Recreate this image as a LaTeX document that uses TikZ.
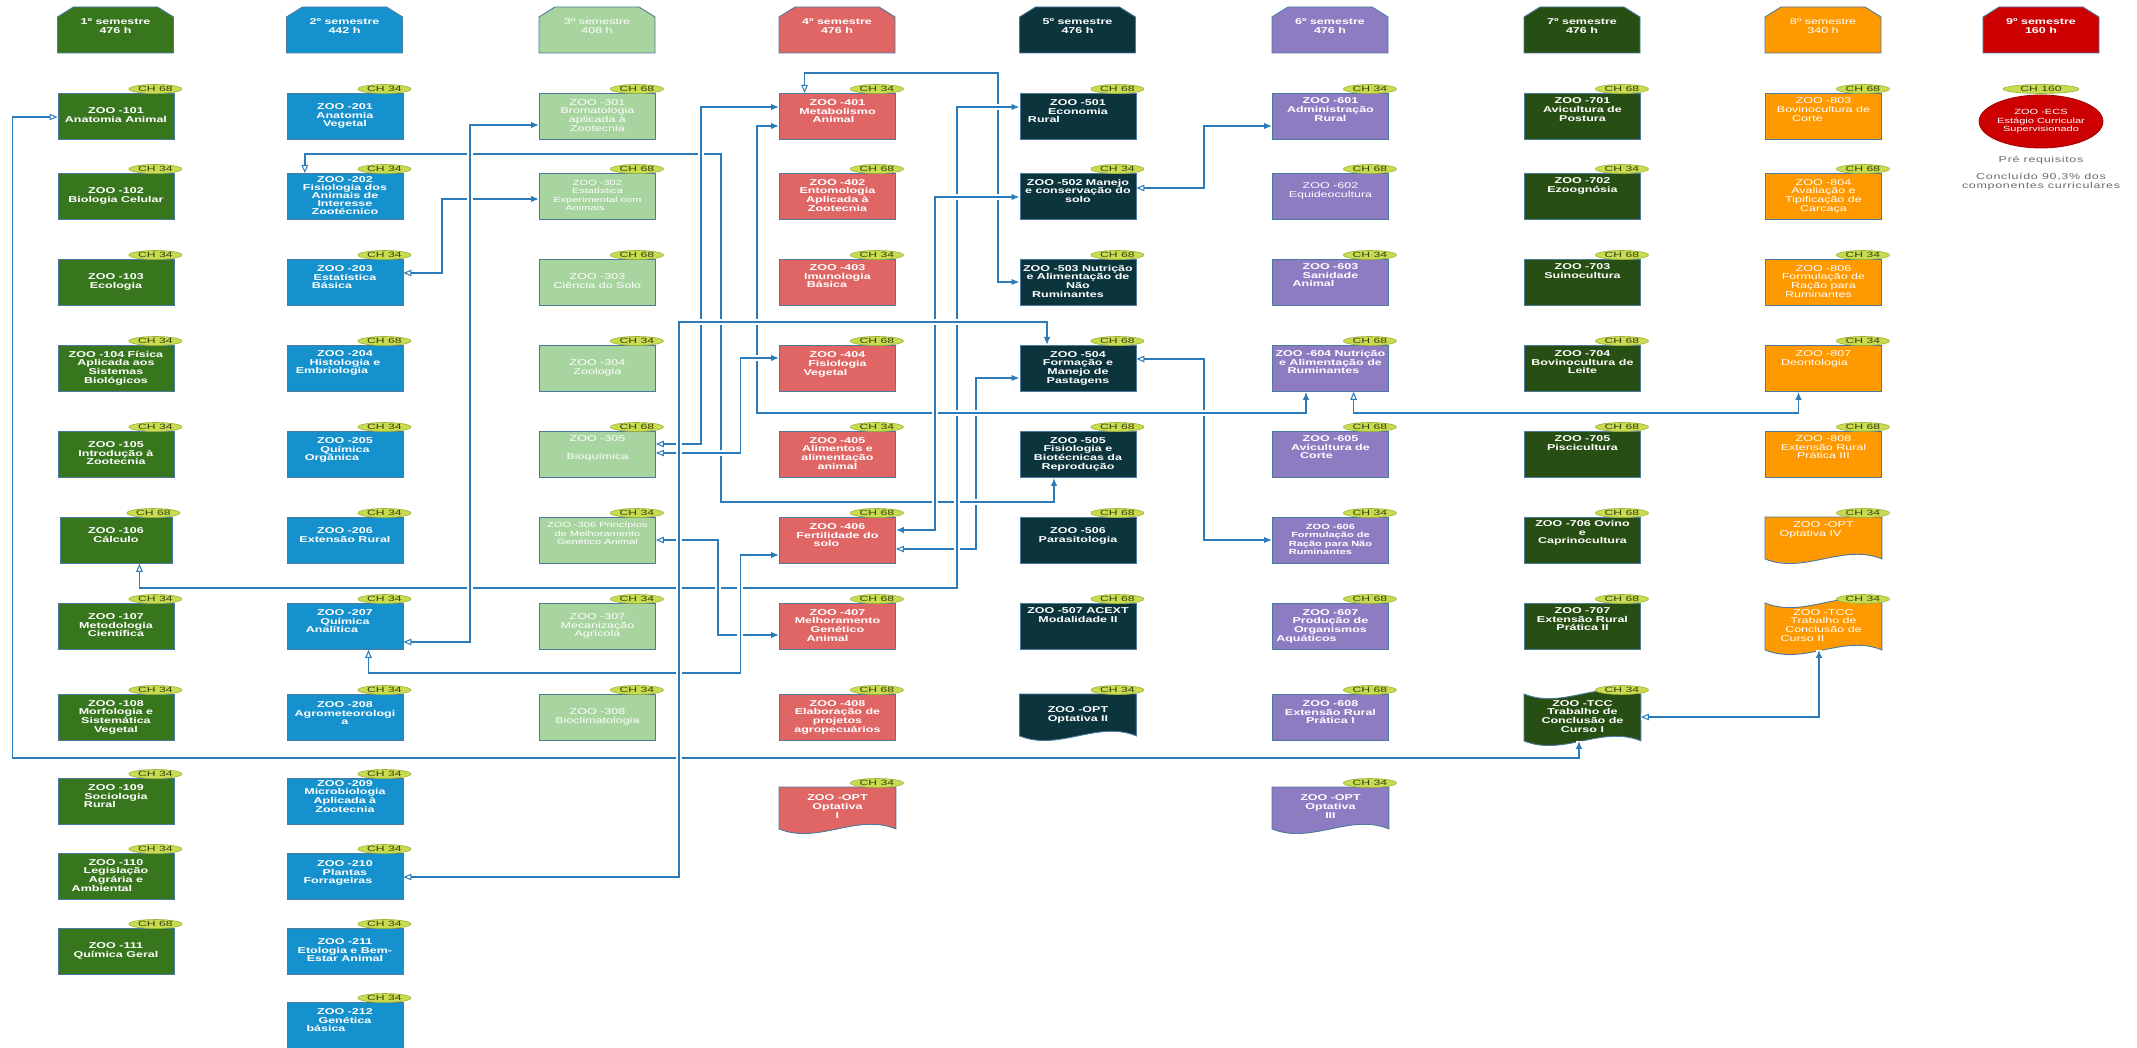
\documentclass[tikz,border=0pt]{standalone}
\usepackage{fontspec}
\setmainfont{Liberation Sans}[FakeStretch=1.47]
\usetikzlibrary{arrows.meta,calc,backgrounds,shapes.geometric}
\definecolor{cA}{HTML}{38761D}
\definecolor{cB}{HTML}{1592CD}
\definecolor{cC}{HTML}{A8D4A0}
\definecolor{cD}{HTML}{E06666}
\definecolor{cE}{HTML}{0C343D}
\definecolor{cF}{HTML}{8E7CC3}
\definecolor{cG}{HTML}{274E13}
\definecolor{cH}{HTML}{FF9900}
\definecolor{cI}{HTML}{CC0000}
\definecolor{bd}{HTML}{4B7A9E}
\definecolor{ln}{HTML}{2B7BBA}
\definecolor{chf}{HTML}{CADB52}
\definecolor{chd}{HTML}{9DB234}
\definecolor{cht}{HTML}{34420E}
\definecolor{gt}{HTML}{6B6B6B}
\newcommand\zzbf{\bfseries\fontsize{8.5}{8.7}\selectfont}
\newcommand\zzrg{\mdseries\fontsize{8.5}{8.7}\selectfont}
\newcommand\zzsm{\mdseries\fontsize{7.5}{8.5}\selectfont}
\newcommand\zzsb{\bfseries\fontsize{7.5}{8.5}\selectfont}
\newcommand\zzch{\addfontfeature{FakeStretch=1.6}\fontsize{7.6}{7.6}\selectfont}
\newcommand\zzgr{\addfontfeature{LetterSpace=8}\fontsize{8.5}{8.6}\selectfont}
\newcommand\zzec{\mdseries\fontsize{7.5}{8.4}\selectfont}
\newcommand\mkbox[6]{%
  \node[box,#4] (#1) at (#2,#3) {#5};
  \node[chl] (#1ch) at ($(#1.north east)+(-19,-4)$) {CH #6};}
\newcommand\mkdoc[7]{%
  \node[box,#5,fill=none,draw=none,minimum height=41pt] (#1) at (#2,#3) {#6};
  \begin{scope}[on background layer]
    \path[fill=#4,draw=bd,line width=0.9pt] (#1.north west) -- (#1.north east) -- (#1.south east)
      .. controls ($(#1.south east)+(-39,-16)$) and ($(#1.south west)+(39,16)$) .. (#1.south west) -- cycle;
  \end{scope}
  \node[chl] (#1ch) at ($(#1.north east)+(-19,-4)$) {CH #7};}
\newcommand\mktape[7]{%
  \node[box,#5,fill=none,draw=none] (#1) at (#2,#3) {#6};
  \begin{scope}[on background layer]
    \path[fill=#4,draw=bd,line width=0.9pt] (#1.north west)
      .. controls ($(#1.north west)+(39,16)$) and ($(#1.north east)+(-39,-16)$) .. (#1.north east) -- (#1.south east)
      .. controls ($(#1.south east)+(-39,-16)$) and ($(#1.south west)+(39,16)$) .. (#1.south west) -- cycle;
  \end{scope}
  \node[chl] (#1ch) at ($(#1.north east)+(-19,-4)$) {CH #7};}
\newcommand\mkhdr[5]{%
  \node[hdr,#4] (#1) at (#2+58,26) {#5};
  \begin{scope}[on background layer]
    \path[fill=#3,draw=bd,line width=0.9pt] ($(#1.center)+(-58,27)$) -- ++(0,-36) -- ++(16,-10) -- ++(84,0) -- ++(16,10) -- ++(0,36) -- cycle;
  \end{scope}}
\begin{document}
\begin{tikzpicture}[x=1pt,y=-1pt,
  box/.style={rectangle,anchor=north west,minimum width=116pt,minimum height=46pt,inner sep=1pt,align=center,text=white,font=\zzbf,draw=bd,line width=0.9pt,text depth=2.5pt},
  reg/.style={font=\zzrg}, sm/.style={font=\zzsm}, smb/.style={font=\zzsb},
  tdp/.style={text depth=#1},
  k1/.style={fill=cA}, k2/.style={fill=cB}, k3/.style={fill=cC}, k4/.style={fill=cD},
  k5/.style={fill=cE}, k6/.style={fill=cF}, k7/.style={fill=cG}, k8/.style={fill=cH},
  chl/.style={ellipse,fill=chf,draw=chd,line width=0.6pt,inner sep=0pt,minimum width=53pt,minimum height=9pt,text height=5.4pt,text depth=0pt,font=\zzch,text=cht},
  hdr/.style={align=center,text=white,font=\zzbf,inner sep=0pt},
  con/.style={draw=ln,line width=1.4pt,preaction={draw=white,line width=6pt,-}},
  oarr/.tip={Triangle[open,length=8pt,width=6.5pt,line width=1pt]},
  farr/.tip={Latex[length=8pt,width=6.5pt]},
  gtx/.style={text=gt,font=\zzgr,align=center,inner sep=0pt}
]
\begin{scope}[on background layer]
  \fill[white] (0,0) rectangle (2137,1048);
\end{scope}
\useasboundingbox (0,0) rectangle (2137,1048);

% headers
\mkhdr{h1}{57.5}{cA}{}{1º semestre\\476 h}
\mkhdr{h2}{286.5}{cB}{}{2º semestre\\442 h}
\mkhdr{h3}{539}{cC}{font=\zzrg}{3º semestre\\408 h}
\mkhdr{h4}{779}{cD}{}{4º semestre\\476 h}
\mkhdr{h5}{1019.5}{cE}{}{5º semestre\\476 h}
\mkhdr{h6}{1272}{cF}{}{6º semestre\\476 h}
\mkhdr{h7}{1524}{cG}{}{7º semestre\\476 h}
\mkhdr{h8}{1765}{cH}{font=\zzrg}{8º semestre\\340 h}
\mkhdr{h9}{1983}{cI}{}{9º semestre\\160 h}

% column 1
\mkbox{b101}{57.5}{93}{k1}{ZOO -101\\Anatomia Animal}{68}
\mkbox{b102}{57.5}{173}{k1}{ZOO -102\\Biologia Celular}{34}
\mkbox{b103}{57.5}{259}{k1}{ZOO -103\\Ecologia}{34}
\mkbox{b104}{57.5}{345}{k1}{ZOO -104 Física\\Aplicada aos\\Sistemas\\Biológicos}{34}
\mkbox{b105}{57.5}{431}{k1}{ZOO -105\\Introdução à\\Zootecnia}{34}
\mkbox{b106}{59.5}{517}{k1,minimum width=112pt,tdp=10.5pt}{ZOO -106\\Cálculo}{68}
\mkbox{b107}{57.5}{603}{k1}{ZOO -107\\Metodologia\\Científica}{34}
\mkbox{b108}{57.5}{694}{k1}{ZOO -108\\Morfologia e\\Sistemática\\Vegetal}{34}
\mkbox{b109}{57.5}{778}{k1,tdp=10.5pt}{ZOO -109\\Sociologia\\Rural\hspace*{32pt}}{34}
\mkbox{b110}{57.5}{853}{k1}{ZOO -110\\Legislação\\Agrária e\\Ambiental\hspace*{28pt}}{34}
\mkbox{b111}{57.5}{928}{k1}{ZOO -111\\Química Geral}{68}

% column 2
\mkbox{b201}{286.5}{93}{k2}{ZOO -201\\Anatomia\\Vegetal}{34}
\mkbox{b202}{286.5}{173}{k2,font=\bfseries\fontsize{8.5}{8}\selectfont}{ZOO -202\\Fisiologia dos\\Animais de\\Interesse\\Zootécnico}{34}
\mkbox{b203}{286.5}{259}{k2,tdp=10.5pt}{ZOO -203\\Estatística\\Básica\hspace*{26pt}}{34}
\mkbox{b204}{286.5}{345}{k2,tdp=12.5pt}{ZOO -204\\Histologia e\\Embriologia\hspace*{26pt}}{68}
\mkbox{b205}{286.5}{431}{k2,tdp=10.5pt}{ZOO -205\\Química\\Orgânica\hspace*{26pt}}{34}
\mkbox{b206}{286.5}{517}{k2,tdp=10.5pt}{ZOO -206\\Extensão Rural}{34}
\mkbox{b207}{286.5}{603}{k2,tdp=10.5pt}{ZOO -207\\Química\\Analítica\hspace*{26pt}}{34}
\mkbox{b208}{286.5}{694}{k2,tdp=8.5pt}{ZOO -208\\Agrometeorologi\\a}{34}
\mkbox{b209}{286.5}{778}{k2,tdp=10.5pt}{ZOO -209\\Microbiologia\\Aplicada à\\Zootecnia}{34}
\mkbox{b210}{286.5}{853}{k2,tdp=8.5pt}{ZOO -210\\Plantas\\Forrageiras\hspace*{14pt}}{34}
\mkbox{b211}{286.5}{928}{k2}{ZOO -211\\Etologia e Bem-\\Estar Animal}{34}
\mkbox{b212}{286.5}{1002}{k2,tdp=10.5pt}{ZOO -212\\Genética\\básica\hspace*{38pt}}{34}

% column 3
\mkbox{b301}{539}{93}{k3,reg}{ZOO -301\\Bromatologia\\aplicada à\\Zootecnia}{68}
\mkbox{b302}{539}{173}{k3,sm}{ZOO -302\\Estatística\\Experimental com\\Animais\hspace*{25pt}}{68}
\mkbox{b303}{539}{259}{k3,reg}{ZOO -303\\Ciência do Solo}{68}
\mkbox{b304}{539}{345}{k3,reg}{ZOO -304\\Zoologia}{34}
\mkbox{b305}{539}{431}{k3,reg,tdp=14.5pt}{ZOO -305\\[9pt]Bioquímica}{68}
\mkbox{b306}{539}{517}{k3,sm,tdp=13.5pt}{ZOO -306 Princípios\\de Melhoramento\\Genético Animal}{34}
\mkbox{b307}{539}{603}{k3,reg}{ZOO -307\\Mecanização\\Agrícola}{34}
\mkbox{b308}{539}{694}{k3,reg}{ZOO -308\\Bioclimatologia}{34}

% column 4
\mkbox{b401}{779}{93}{k4,tdp=10.5pt}{ZOO -401\\Metabolismo\\Animal\hspace*{8pt}}{34}
\mkbox{b402}{779}{173}{k4}{ZOO -402\\Entomologia\\Aplicada à\\Zootecnia}{68}
\mkbox{b403}{779}{259}{k4,tdp=12.5pt}{ZOO -403\\Imunologia\\Básica\hspace*{21pt}}{34}
\mkbox{b404}{779}{345}{k4,tdp=9.5pt}{ZOO -404\\Fisiologia\\Vegetal\hspace*{24pt}}{68}
\mkbox{b405}{779}{431}{k4}{ZOO -405\\Alimentos e\\alimentação\\animal}{34}
\mkbox{b406}{779}{517}{k4,tdp=10.5pt}{ZOO -406\\Fertilidade do\\solo\hspace*{22pt}}{68}
\mkbox{b407}{779}{603}{k4}{ZOO -407\\Melhoramento\\Genético\\Animal\hspace*{20pt}}{68}
\mkbox{b408}{779}{694}{k4}{ZOO -408\\Elaboração de\\projetos\\agropecuários}{68}
\mkdoc{opt1}{779}{787}{cD}{}{ZOO -OPT\\Optativa\\I}{34}

% column 5
\mkbox{b501}{1019.5}{93}{k5,tdp=10.5pt}{ZOO -501\\Economia\\Rural\hspace*{68pt}}{68}
\mkbox{b502}{1019.5}{173}{k5,tdp=11.5pt}{ZOO -502 Manejo\\e conservação do\\solo}{34}
\mkbox{b503}{1019.5}{259}{k5}{ZOO -503 Nutrição\\e Alimentação de\\Não\\Ruminantes\hspace*{20pt}}{68}
\mkbox{b504}{1019.5}{345}{k5}{ZOO -504\\Formação e\\Manejo de\\Pastagens}{68}
\mkbox{b505}{1019.5}{431}{k5}{ZOO -505\\Fisiologia e\\Biotécnicas da\\Reprodução}{68}
\mkbox{b506}{1019.5}{517}{k5,tdp=10.5pt}{ZOO -506\\Parasitologia}{68}
\mkbox{b507}{1019.5}{603}{k5,tdp=22.5pt}{ZOO -507 ACEXT\\Modalidade II}{68}
\mkdoc{opt2}{1019.5}{694}{cE}{}{ZOO -OPT\\Optativa II}{34}

% column 6
\mkbox{b601}{1272}{93}{k6,tdp=13.5pt}{ZOO -601\\Administração\\Rural}{34}
\mkbox{b602}{1272}{173}{k6,reg,tdp=12.5pt}{ZOO -602\\Equideocultura}{68}
\mkbox{b603}{1272}{259}{k6,tdp=14.5pt}{ZOO -603\\Sanidade\\Animal\hspace*{34pt}}{34}
\mkbox{b604}{1272}{345}{k6,tdp=12.5pt}{ZOO -604 Nutrição\\e Alimentação de\\Ruminantes\hspace*{14pt}}{68}
\mkbox{b605}{1272}{431}{k6,tdp=14.5pt}{ZOO -605\\Avicultura de\\Corte\hspace*{28pt}}{68}
\mkbox{b606}{1272}{517}{k6,smb}{ZOO -606\\Formulação de\\Ração para Não\\Ruminantes\hspace*{20pt}}{34}
\mkbox{b607}{1272}{603}{k6}{ZOO -607\\Produção de\\Organismos\\Aquáticos\hspace*{48pt}}{68}
\mkbox{b608}{1272}{694}{k6,tdp=10.5pt}{ZOO -608\\Extensão Rural\\Prática I}{68}
\mkdoc{opt3}{1272}{787}{cF}{}{ZOO -OPT\\Optativa\\III}{34}

% column 7
\mkbox{b701}{1524}{93}{k7,tdp=13.5pt}{ZOO -701\\Avicultura de\\Postura}{68}
\mkbox{b702}{1524}{173}{k7,tdp=22.5pt}{ZOO -702\\Ezoognósia}{34}
\mkbox{b703}{1524}{259}{k7,tdp=22.5pt}{ZOO -703\\Suinocultura}{68}
\mkbox{b704}{1524}{345}{k7,tdp=12.5pt}{ZOO -704\\Bovinocultura de\\Leite}{68}
\mkbox{b705}{1524}{431}{k7,tdp=22.5pt}{ZOO -705\\Piscicultura}{68}
\mkbox{b706}{1524}{517}{k7,tdp=16.5pt}{ZOO -706 Ovino\\e\\Caprinocultura}{68}
\mkbox{b707}{1524}{603}{k7,tdp=14.5pt}{ZOO -707\\Extensão Rural\\Prática II}{68}
\mktape{tcc1}{1524}{694}{cG}{}{ZOO -TCC\\Trabalho de\\Conclusão de\\Curso I}{34}

% column 8
\mkbox{b803}{1765}{93}{k8,reg,tdp=13.5pt}{ZOO -803\\Bovinocultura de\\Corte\hspace*{32pt}}{68}
\mkbox{b804}{1765}{173}{k8,reg}{ZOO -804\\Avaliação e\\Tipificação de\\Carcaça}{68}
\mkbox{b806}{1765}{259}{k8,reg}{ZOO -806\\Formulação de\\Ração para\\Ruminantes\hspace*{10pt}}{34}
\mkbox{b807}{1765}{345}{k8,reg,tdp=21.5pt}{ZOO -807\\Deontologia\hspace*{18pt}}{34}
\mkbox{b808}{1765}{431}{k8,reg,tdp=14.5pt}{ZOO -808\\Extensão Rural\\Prática III}{68}
\mkdoc{opt4}{1765}{517}{cH}{reg,tdp=17.5pt}{ZOO -OPT\\Optativa IV\hspace*{26pt}}{34}
\mktape{tcc2}{1765}{603}{cH}{reg}{ZOO -TCC\\Trabalho de\\Conclusão de\\Curso II\hspace*{42pt}}{34}

% column 9
\node[ellipse,fill=cI,draw=cI!80!black,line width=0.8pt,minimum width=104pt,minimum height=53pt,inner sep=0pt,align=center,text=white,font=\zzec] (ecs) at (2041,121.5) {ZOO -ECS\\Estágio Curricular\\Supervisionado};
\node[chl,minimum width=76pt] (ecsch) at (2041,89) {CH 160};
\node[gtx] (pre) at (2041,160) {Pré requisitos};
\node[gtx] (concl) at (2041,181.5) {Concluído 90,3\% dos\\componentes curriculares};

% connectors
\begin{scope}[on background layer]
\draw[con,oarr-farr] (b406.east |- 0,549) -| (976,378) -- (b504.west |- 0,378);
\draw[con,oarr-farr] (b401.north -| 804.5,0) |- (998,73) |- (b503.west |- 0,282);
\draw[con,oarr-farr] (b101.west |- 0,117) -| (12.7,758) -| (tcc1.south -| 1579,0);
\draw[con,oarr-farr] (b202.north -| 304.8,0) |- (720.8,154) |- (1054,502) -- (b505.south -| 1054,0);
\draw[con,oarr-farr] (b203.east |- 0,273) -| (442,199) -- (b302.west |- 0,199);
\draw[con,oarr-farr] (b106.south -| 139.5,0) |- (957,588) |- (b501.west |- 0,107);
\draw[con,oarr-farr] (b504.east |- 0,359) -| (1204,540) -- (b606.west |- 0,540);
\draw[con,farr-farr] (b401.west |- 0,126) -| (757,413) -| (b604.south -| 1306,0);
\draw[con,farr-farr] (b406.east |- 0,530) -| (935,197) -- (b502.west |- 0,197);
\draw[con,oarr-farr] (b305.east |- 0,444) -| (700.8,107) -- (b401.west |- 0,107);
\draw[con,oarr-farr] (b305.east |- 0,453) -| (740.4,358) -- (b404.west |- 0,358);
\draw[con,oarr-farr] (b306.east |- 0,540) -| (718,635) -- (b407.west |- 0,635);
\draw[con,oarr-farr] (b207.south -| 368.5,0) |- (740.4,673) |- (b406.west |- 0,555);
\draw[con,oarr-farr] (b210.east |- 0,877) -| (679,322) -| (b504.north -| 1047,0);
\draw[con,oarr-farr] (b207.east |- 0,642) -| (470,125) -- (b301.west |- 0,125);
\draw[con,oarr-farr] (b502.east |- 0,188) -| (1204,126) -- (b601.west |- 0,126);
\draw[con,oarr-farr] (b604.south -| 1353.6,0) |- (1798.5,413) -- (b807.south -| 1798.5,0);
\draw[con,oarr-farr] (tcc1.east |- 0,717) -| (tcc2.south -| 1819,0);
\end{scope}
\end{tikzpicture}
\end{document}
